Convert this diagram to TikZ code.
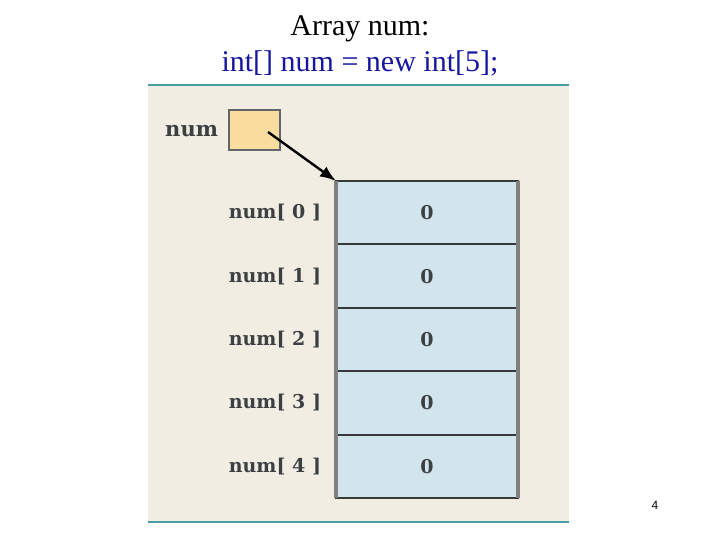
\documentclass[tikz,border=0pt]{standalone}
\usepackage{fontspec}
\setmainfont{Liberation Serif}
\newfontfamily\labelfont{DejaVu Serif}
\newfontfamily\pagefont{Liberation Sans}
\usepackage{tikz}
\usetikzlibrary{arrows.meta, positioning, calc}

\definecolor{panelbg}{RGB}{241,237,227}
\definecolor{panelline}{RGB}{72,160,162}
\definecolor{titleblue}{RGB}{22,22,160}
\definecolor{refbox}{RGB}{250,221,158}
\definecolor{cellfill}{RGB}{210,228,236}
\definecolor{inkgray}{RGB}{60,64,66}

\begin{document}
\begin{tikzpicture}[
  x=1bp, y=-1bp,
  every node/.style={inner sep=0pt, outer sep=0pt},
  title/.style={font=\fontsize{30bp}{33bp}\selectfont, anchor=base},
  varname/.style={font=\labelfont\bfseries\fontsize{19bp}{22bp}\selectfont, text=inkgray},
  cell/.style={rectangle, draw=inkgray!90!black, line width=2bp, fill=cellfill,
    minimum width=182bp, minimum height=63.4bp},
]
  \useasboundingbox (0,0) rectangle (720,540);

  % titles
  \node[title] (head) at (360,36) {Array num:};
  \node[title, text=titleblue] (decl) at (360,72) {int[] num = new int[5];};

  % panel
  \fill[panelbg] (148,86) rectangle (569,523);
  \draw[panelline, line width=2.5bp] (148,85) -- (569,85);
  \draw[panelline, line width=2.5bp] (148,522) -- (569,522);

  % reference variable
  \node[rectangle, draw=inkgray!80, line width=1.6bp, fill=refbox,
    minimum width=51bp, minimum height=40bp] (numbox) at (254.5,130) {};
  \node[varname, font=\labelfont\bfseries\fontsize{21bp}{24bp}\selectfont, anchor=east]
    (numlbl) at (218,131) {num};

  % array cells
  \foreach \i in {0,...,4} {
    \node[cell] (cell\i) at (427,212.7+63.4*\i) {};
    \node[varname] (zero\i) at (cell\i.center) {0};
    \node[varname, anchor=east] (idx\i) at ($(cell\i.west)+(-15,0)$) {num[ \i\ ]};
  }
  \draw[gray, line width=3.5bp] (cell0.north west) -- (cell4.south west);
  \draw[gray, line width=3.5bp] (cell0.north east) -- (cell4.south east);

  % pointer
  \coordinate (ptr) at (268,132);
  \draw[line width=2.4bp, -{Latex[length=16bp, width=12bp]}] (ptr) -- (cell0.north west);

  % page number
  \node[font=\pagefont\fontsize{12bp}{14bp}\selectfont] (page) at (655,505) {4};
\end{tikzpicture}
\end{document}
